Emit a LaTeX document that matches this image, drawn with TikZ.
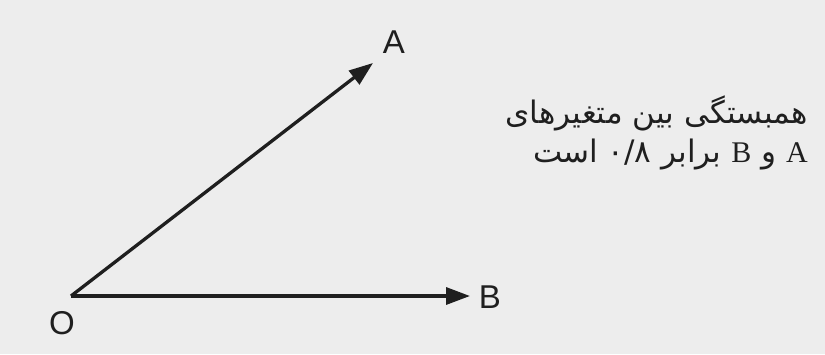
\documentclass[tikz,border=0pt]{standalone}
\usepackage{fontspec}
\setmainfont{Liberation Serif}
\newfontfamily\labfont{Liberation Sans}
\newfontfamily\fafont[Script=Arabic]{DejaVu Sans}
\newfontfamily\latfont{Liberation Serif}
\TeXXeTstate=1
\usetikzlibrary{arrows.meta}
\newcommand\latinpart[1]{{\latfont\fontsize{30}{30}\selectfont #1}}
\begin{document}
\begin{tikzpicture}[x=1pt,y=-1pt,
  vec/.style={line width=3.3pt, draw=black!88, -{Triangle[length=24pt,width=17pt]}},
  lab/.style={font=\labfont\fontsize{33}{33}\selectfont, inner sep=0pt, text=black!88},
  fa/.style={font=\fafont\fontsize{31}{36}\selectfont, inner sep=0pt, anchor=base east, text=black!88}]
\fill[black!7] (0,0) rectangle (825,354);
\useasboundingbox (0,0) rectangle (825,354);
\coordinate (O) at (71,296);
\coordinate (Atip) at (373,63);
\coordinate (Btip) at (470,296);
\draw[vec] (O) -- (Atip);
\draw[vec] (O) -- (Btip);
\node[lab] (A) at (394,42) {A};
\node[lab] (B) at (490,297) {B};
\node[lab] (Ol) at (62,323) {O};
\node[fa] (t1) at (808,123) {\beginR همبستگی بین متغیرهای\endR};
\node[fa] (t2) at (808,162) {\beginR \latinpart{A} و \latinpart{B} برابر \beginL ۰/۸\endL{} است\endR};
\end{tikzpicture}
\end{document}
